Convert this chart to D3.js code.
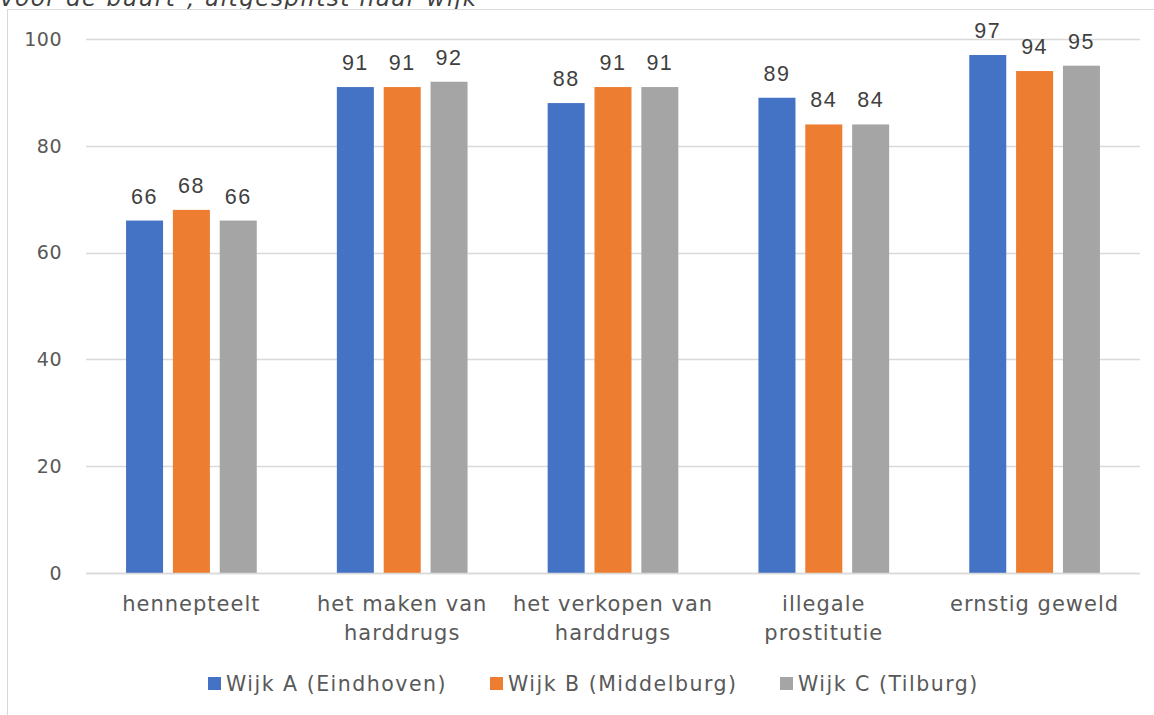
<!DOCTYPE html>
<html><head><meta charset="utf-8">
<script src="https://cdn.jsdelivr.net/npm/d3@7"></script>
<style>body{margin:0;background:#fff;}svg{display:block;font-family:"DejaVu Sans",sans-serif;}</style>
</head><body><svg id="c" width="1154" height="715"></svg>
<script>
const categories = [["hennepteelt"],["het maken van","harddrugs"],["het verkopen van","harddrugs"],["illegale","prostitutie"],["ernstig geweld"]];
const seriesNames = ["Wijk A (Eindhoven)","Wijk B (Middelburg)","Wijk C (Tilburg)"];
const wijkA = [66,91,88,89,97];
const wijkB = [68,91,91,84,94];
const wijkC = [66,92,91,84,95];
const yTicks = [0,20,40,60,80,100];
const colors = ["#4472c4","#ed7d31","#a5a5a5"];
const seriesVals = [wijkA,wijkB,wijkC];

const svg = d3.select("#c");
svg.append("text").attr("x",0).attr("y",6).attr("font-style","italic").attr("font-size",23).attr("letter-spacing",1.5).attr("fill","#404040").text("voor de buurt¹, uitgesplitst naar wijk");
svg.append("rect").attr("x",7.5).attr("y",9.5).attr("width",1160).attr("height",720).attr("fill","#fff").attr("stroke","#d9d9d9");

const pL=86,pR=1140,pT=39,pB=573;
const x = d3.scaleBand().domain(d3.range(categories.length)).range([pL,pR]).paddingInner(0.38).paddingOuter(0.19);
const xs = d3.scaleBand().domain(d3.range(3)).range([0,x.bandwidth()]).paddingInner(0.21);
const y = d3.scaleLinear().domain([0,100]).range([pB,pT]);

const g = svg.append("g");
g.selectAll("line.grid").data(yTicks).join("line").attr("x1",pL).attr("x2",pR)
 .attr("y1",d=>Math.round(y(d))+0.5).attr("y2",d=>Math.round(y(d))+0.5).attr("stroke","#d9d9d9").attr("stroke-width",1.3);
g.selectAll("text.yt").data(yTicks).join("text").attr("x",62).attr("y",d=>y(d)).attr("dy","0.36em")
 .attr("text-anchor","end").attr("font-size",19).attr("letter-spacing",0.5).attr("fill","#595959").text(d=>d);

seriesVals.forEach((vals,si)=>{
  g.selectAll("rect.s"+si).data(vals).join("rect")
   .attr("x",(d,i)=>x(i)+xs(si)).attr("width",xs.bandwidth())
   .attr("y",d=>y(d)).attr("height",d=>pB-y(d)).attr("fill",colors[si]);
  g.selectAll("text.l"+si).data(vals).join("text")
   .attr("x",(d,i)=>x(i)+xs(si)+xs.bandwidth()/2).attr("y",d=>y(d)-17)
   .attr("text-anchor","middle").attr("font-family","'Liberation Sans',Arial,sans-serif")
   .attr("font-size",21.5).attr("letter-spacing",1.5).attr("fill","#404040").text(d=>d);
});
g.append("line").attr("x1",pL).attr("x2",pR).attr("y1",pB+0.5).attr("y2",pB+0.5).attr("stroke","#d9d9d9").attr("stroke-width",1.3);

categories.forEach((lines,i)=>{
  const t = g.append("text").attr("text-anchor","middle").attr("font-size",21).attr("letter-spacing",1).attr("fill","#595959");
  lines.forEach((l,j)=>t.append("tspan").attr("x",x(i)+x.bandwidth()/2).attr("y",611+j*29).text(l));
});

const legX=[208,490,780];
seriesNames.forEach((n,i)=>{
  svg.append("rect").attr("x",legX[i]).attr("y",677).attr("width",13).attr("height",13).attr("fill",colors[i]);
  svg.append("text").attr("x",legX[i]+18).attr("y",691).attr("font-size",20.5).attr("letter-spacing",1.5).attr("fill","#595959").text(n);
});
</script></body></html>
